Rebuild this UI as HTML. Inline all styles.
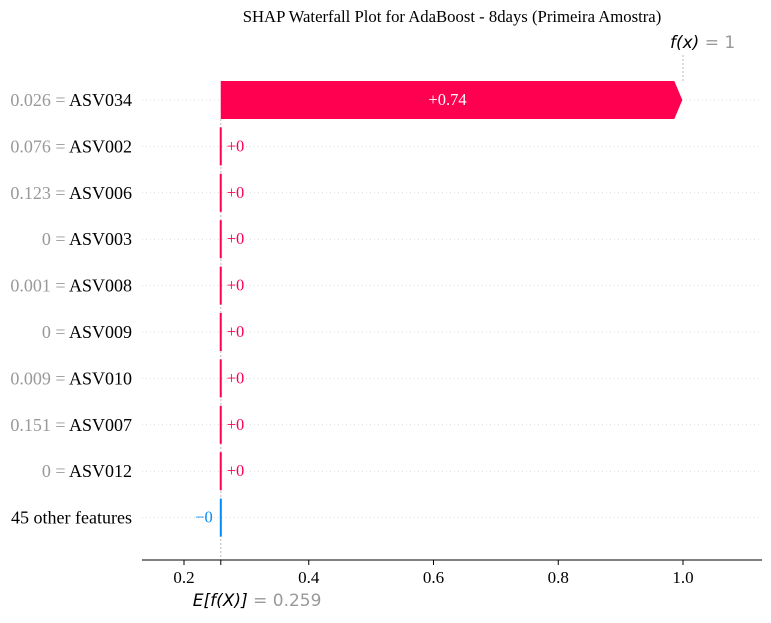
<!DOCTYPE html>
<html><head><meta charset="utf-8"><style>
body{margin:0;background:#fff;width:771px;height:618px;overflow:hidden}
svg{font-family:"Liberation Serif",serif}
</style></head><body>
<svg id="c" width="771" height="618"></svg>
<script>
const featureNames=["ASV034","ASV002","ASV006","ASV003","ASV008","ASV009","ASV010","ASV007","ASV012","45 other features"];
const featureValues=["0.026","0.076","0.123","0","0.001","0","0.009","0.151","0",""];
const shapValues=[0.74,0,0,0,0,0,0,0,0,-0.0001];
const shapLabels=["+0.74","+0","+0","+0","+0","+0","+0","+0","+0","\u22120"];
const baseValue=0.259;
const fx=1;
const ticks=[0.2,0.4,0.6,0.8,1.0];
const tickLabels=["0.2","0.4","0.6","0.8","1.0"];

const NS="http://www.w3.org/2000/svg";
const svg=document.getElementById('c');
const X=v=>184+(v-0.2)*623.75;
const Y=i=>100+i*46.4;
function el(t,a,p){const e=document.createElementNS(NS,t);for(const k in a)e.setAttribute(k,a[k]);(p||svg).appendChild(e);return e;}

const title=el('text',{x:452,y:22,'text-anchor':'middle','font-size':16.7,fill:'#000'});
title.textContent="SHAP Waterfall Plot for AdaBoost - 8days (Primeira Amostra)";



for(let i=0;i<featureNames.length;i++){
  const g=el('line',{x1:142,x2:762,y1:Y(i),y2:Y(i),stroke:'#ddd','stroke-width':1,'stroke-dasharray':'1,3'});
  
  
}
const fl=el('line',{x1:X(fx),x2:X(fx),y1:55,y2:Y(0)-19,stroke:'#bbb','stroke-width':1,'stroke-dasharray':'2,2'});


const bl=el('line',{x1:X(baseValue),x2:X(baseValue),y1:Y(0)+19,y2:560,stroke:'#bbb','stroke-width':1,'stroke-dasharray':'2,2'});



let cum=baseValue;
const n=featureNames.length;
const starts=new Array(n);
for(let i=n-1;i>=0;i--){starts[i]=cum;cum+=shapValues[i];}
for(let i=0;i<n;i++){
  const s=starts[i],e=s+shapValues[i];
  const pos=shapValues[i]>=0;
  const col=pos?'#ff0051':'#008bfb';
  const y=Y(i),h=38;
  const x0=X(s),x1=X(e);
  const w=Math.abs(x1-x0);
  let bar;
  if(w>10){
    const tip=pos?8:-8;
    const xe=x1, xb=x1-tip;
    bar=el('path',{d:`M${x0},${y-h/2}L${xb},${y-h/2}L${xe},${y}L${xb},${y+h/2}L${x0},${y+h/2}Z`,fill:col});
    const t=el('text',{x:(x0+xb)/2,y:y+5,'text-anchor':'middle','font-size':16.5,fill:'#fff'});
    t.textContent=shapLabels[i];
    
    
  }else{
    bar=el('rect',{x:x0-1,y:y-h/2,width:2,height:h,fill:col});
    const t=el('text',{x:pos?x0+6:x0-8,y:y+5,'text-anchor':pos?'start':'end','font-size':16.5,fill:col});
    t.textContent=shapLabels[i];
    
    
  }
  
  
  const lab=el('text',{x:132,y:y+6,'text-anchor':'end','font-size':18,fill:'#000'});
  if(featureValues[i]!==""){
    const ts=el('tspan',{fill:'#999'},lab);ts.textContent=featureValues[i]+" = ";
    const tn=el('tspan',{},lab);tn.textContent=featureNames[i];
  }else lab.textContent=featureNames[i];
  
  
}

const ax=el('line',{x1:142,x2:762,y1:560,y2:560,stroke:'#000','stroke-width':1});


ticks.forEach((v,i)=>{
  el('line',{x1:X(v),x2:X(v),y1:560,y2:565,stroke:'#000'});
  const t=el('text',{x:X(v),y:583,'text-anchor':'middle','font-size':17,fill:'#000'});
  t.textContent=tickLabels[i];
  
  
});
el('line',{x1:X(baseValue),x2:X(baseValue),y1:560,y2:565,stroke:'#000'});

const ef=el('text',{x:X(baseValue)-28,y:606,'font-size':17,'font-family':'DejaVu Sans, sans-serif',fill:'#000'});
const e1=el('tspan',{'font-style':'italic'},ef);e1.textContent="E[f(X)]";
const e2=el('tspan',{fill:'#999'},ef);e2.textContent=" = "+baseValue;



const ff=el('text',{x:X(fx)-13,y:48,'font-size':17,'font-family':'DejaVu Sans, sans-serif',fill:'#000'});
const f1=el('tspan',{'font-style':'italic'},ff);f1.textContent="f(x)";
const f2=el('tspan',{fill:'#999'},ff);f2.textContent=" = "+fx;


</script>
</body></html>
